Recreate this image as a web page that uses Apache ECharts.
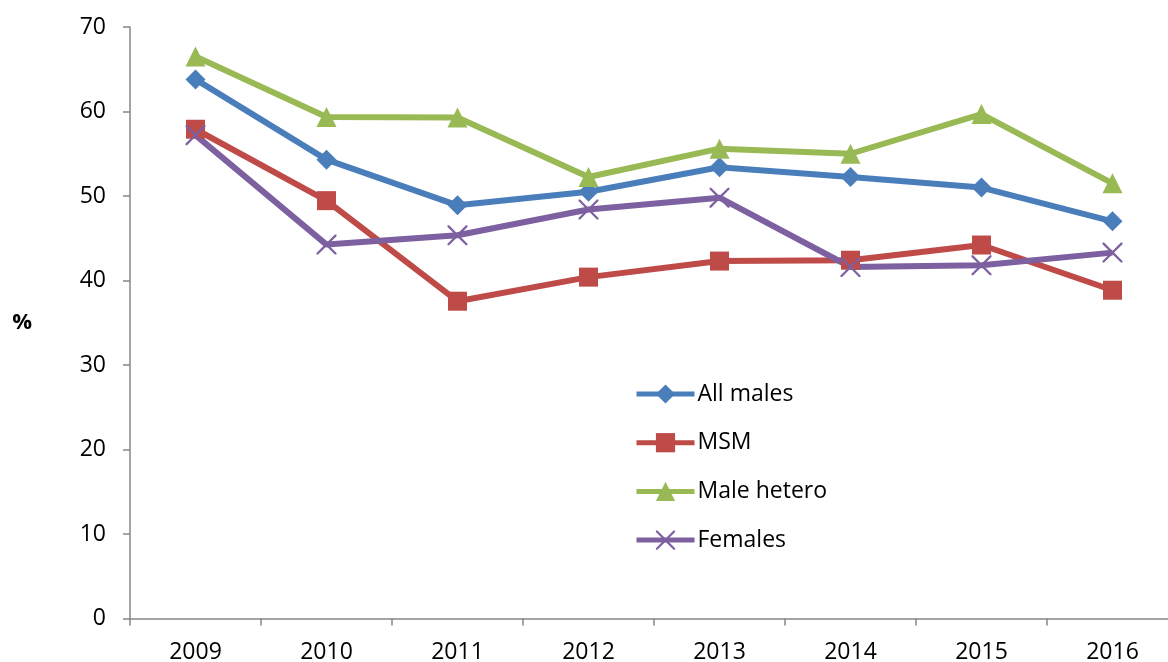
<!DOCTYPE html>
<html>
<head>
<meta charset="utf-8">
<script src="https://cdn.jsdelivr.net/npm/echarts@6/dist/echarts.min.js"></script>
<style>
html,body{margin:0;padding:0;background:#fff;}
#chart{width:1168px;height:662px;}
</style>
</head>
<body>
<div id="chart"></div>
<script>
const years = ['2009','2010','2011','2012','2013','2014','2015','2016'];
const allMales = [63.8, 54.3, 48.9, 50.5, 53.4, 52.25, 51.0, 47.0];
const msm = [57.9, 49.45, 37.55, 40.4, 42.3, 42.4, 44.2, 38.85];
const maleHetero = [66.5, 59.35, 59.3, 52.25, 55.6, 55.0, 59.7, 51.5];
const females = [57.2, 44.25, 45.35, 48.4, 49.8, 41.6, 41.8, 43.3];
const seriesNames = ['All males','MSM','Male hetero','Females'];

const FONT = '"Open Sans", sans-serif';
const crossPath = 'path://M0,0 L1.6,0 L10,8.4 L18.4,0 L20,0 L20,1.6 L11.6,10 L20,18.4 L20,20 L18.4,20 L10,11.6 L1.6,20 L0,20 L0,18.4 L8.4,10 L0,1.6 Z';

function mk(name, data, color, symbol, size) {
  return {
    name: name, type: 'line', data: data,
    symbol: symbol, symbolSize: size,
    lineStyle: {color: color, width: 6},
    itemStyle: {color: color},
    emphasis: {disabled: true},
    animation: false
  };
}

const chart = echarts.init(document.getElementById('chart'));
chart.setOption({
  backgroundColor: '#fff',
  animation: false,
  grid: {left: 130, top: 27, width: 1048, height: 591.5, containLabel: false, outerBoundsMode: 'none'},
  legend: {
    orient: 'vertical', left: 629, top: 377,
    itemWidth: 58, itemHeight: 24, itemGap: 24.7,
    data: seriesNames,
    lineStyle: {width: 5},
    textStyle: {fontFamily: FONT, fontSize: 23, color: '#000', lineHeight: 24, padding: [0,0,0,-2]}
  },
  xAxis: {
    type: 'category', data: years, boundaryGap: true,
    axisLine: {lineStyle: {color: '#868686', width: 1.5}},
    axisTick: {show: true, interval: 0, length: 7, lineStyle: {color: '#868686', width: 1.5}},
    axisLabel: {fontFamily: FONT, fontSize: 23, color: '#000', margin: 22, interval: 0}
  },
  yAxis: {
    type: 'value', min: 0, max: 70, interval: 10,
    name: '%', nameLocation: 'middle', nameRotate: 0, nameGap: 98,
    nameTextStyle: {fontFamily: FONT, fontSize: 22, fontWeight: 'bold', color: '#000', padding: [16,0,0,0]},
    axisLine: {show: true, lineStyle: {color: '#868686', width: 1.5}},
    axisTick: {show: true, length: 7, lineStyle: {color: '#868686', width: 1.5}},
    splitLine: {show: false},
    axisLabel: {fontFamily: FONT, fontSize: 23, color: '#000', margin: 24}
  },
  series: [
    mk(seriesNames[0], allMales, '#4a7ebb', 'diamond', 20),
    mk(seriesNames[1], msm, '#be4b48', 'rect', 19),
    mk(seriesNames[2], maleHetero, '#98b954', 'triangle', 20),
    mk(seriesNames[3], females, '#7d60a0', crossPath, 20)
  ]
});
</script>
</body>
</html>
